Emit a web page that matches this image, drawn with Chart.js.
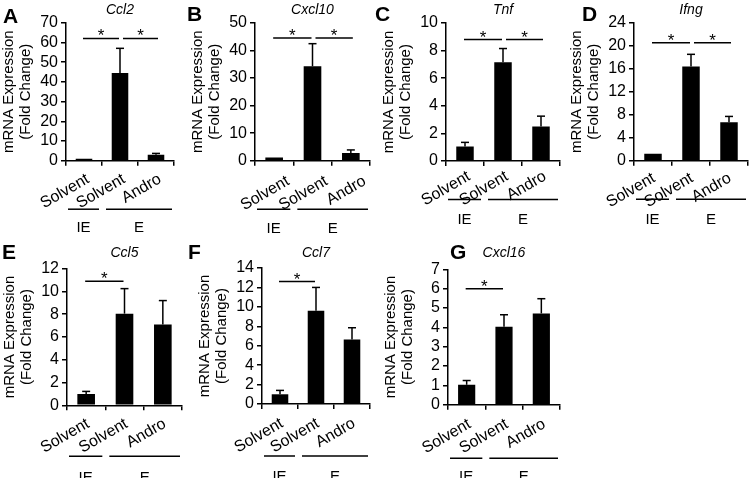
<!DOCTYPE html>
<html>
<head>
<meta charset="utf-8">
<script src="https://cdn.jsdelivr.net/npm/chart.js@4.4.1/dist/chart.umd.min.js"></script>
<style>
  body { margin: 0; background: #fff; width: 749px; height: 478px; position: relative; overflow: hidden; }
  .panel { position: absolute; }
  .lettre { position: absolute; font: bold 21px 'Liberation Sans', Arial, sans-serif; line-height: 1; color: #000; }
</style>
</head>
<body>
<script>
// ── Données ─────────────────────────────────────────────────
const categories   = ['Solvent', 'Solvent', 'Andro'];
const groupLabels  = ['IE', 'E'];
const groupFrom    = [0, 1];
const groupTo      = [0, 2];
const genes        = ['Ccl2', 'Cxcl10', 'Tnf', 'Ifng', 'Ccl5', 'Ccl7', 'Cxcl16'];
const panelLetters = ['A', 'B', 'C', 'D', 'E', 'F', 'G'];

const ccl2Mean   = [1.0, 44.5, 3.0];   const ccl2Sem   = [0, 12.5, 0.7];
const cxcl10Mean = [1.2, 34.2, 2.8];   const cxcl10Sem = [0, 8.2, 1.1];
const tnfMean    = [1.05, 7.15, 2.5];  const tnfSem    = [0.3, 1.0, 0.75];
const ifngMean   = [1.2, 16.4, 6.7];   const ifngSem   = [0, 2.1, 1.0];
const ccl5Mean   = [1.0, 8.05, 7.1];   const ccl5Sem   = [0.22, 2.2, 2.1];
const ccl7Mean   = [1.0, 9.6, 6.65];   const ccl7Sem   = [0.4, 2.4, 1.2];
const cxcl16Mean = [1.03, 4.03, 4.72]; const cxcl16Sem = [0.22, 0.62, 0.76];

const yMax  = [70, 50, 10, 24, 12, 14, 7];
const yStep = [10, 10, 2, 4, 2, 2, 1];

// comparaisons significatives (*) : paires de barres et hauteur du trait
const sigPairs  = [[[0, 1], [1, 2]], [[0, 1], [1, 2]], [[0, 1], [1, 2]], [[0, 1], [1, 2]], [[0, 1]], [[0, 1]], [[0, 1]]];
const sigLevels = [[62, 62], [44.5, 44.5], [8.8, 8.8], [20.5, 20.5], [10.9], [12.6], [6.0]];

const means = [ccl2Mean, cxcl10Mean, tnfMean, ifngMean, ccl5Mean, ccl7Mean, cxcl16Mean];
const sems  = [ccl2Sem, cxcl10Sem, tnfSem, ifngSem, ccl5Sem, ccl7Sem, cxcl16Sem];

// ── Mise en page (pixels) ───────────────────────────────────
const boxLeft    = [0, 189, 380, 568, 1, 196, 382];
const boxTop     = [0, 0, 0, 0, 240, 240, 240];
const boxHeight  = [240, 240, 240, 240, 238, 238, 238];
const plotWidth  = [108, 115, 114, 114, 115, 108, 112];
const plotTop    = [22.7, 22.7, 23, 22.7, 28.7, 28, 29.3];
const plotBottom = [160.7, 160.7, 161, 160.7, 165.3, 164, 164.7];
const titleY     = [10, 10, 10, 10, 13, 13, 13];
const tickPad    = [4, 6, 1, 3, 4, 5, 5];
const tickShift  = [4, 14, 4, 1, 2, 2, 3];
const groupLine  = [48.5, 48.5, 38.5, 38.5, 51, 52, 53.5];
const groupText  = [61, 62, 52, 52.5, 66.4, 66, 65.3];
const letterPos  = [[3, 7], [187, 5], [375, 5], [582, 5], [2, 243], [188, 243], [450, 243]];

const FONT = "'Liberation Sans', Arial, sans-serif";
Chart.defaults.font.family = FONT;
Chart.defaults.color = '#000';

// ── Plugin : barres d'erreur, astérisques, groupes IE / E ───
const extras = {
  id: 'extras',
  afterDraw(chart, args, opts) {
    const { ctx, chartArea } = chart;
    const x = chart.scales.x, y = chart.scales.y;
    const meta = chart.getDatasetMeta(0);
    const vals = chart.data.datasets[0].data;
    ctx.save();
    ctx.strokeStyle = '#000';
    ctx.fillStyle = '#000';
    ctx.lineWidth = 1.5;
    const seg = (x1, y1, x2, y2) => { ctx.beginPath(); ctx.moveTo(x1, y1); ctx.lineTo(x2, y2); ctx.stroke(); };

    // barres d'erreur (vers le haut seulement)
    opts.sem.forEach((s, i) => {
      if (!s) return;
      const bx = meta.data[i].x;
      const yt = y.getPixelForValue(vals[i] + s);
      seg(bx, y.getPixelForValue(vals[i]), bx, yt);
      seg(bx - 4, yt, bx + 4, yt);
    });

    // traits de significativité
    ctx.font = '17px ' + FONT;
    ctx.textAlign = 'center';
    ctx.textBaseline = 'alphabetic';
    opts.pairs.forEach((p, k) => {
      const yy = y.getPixelForValue(opts.levels[k]);
      const x1 = x.getPixelForValue(p[0]) + (k > 0 ? 3 : -1);
      const x2 = x.getPixelForValue(p[1]) + (k > 0 ? 2 : -1);
      seg(x1, yy, x2, yy);
      ctx.fillText('*', (x1 + x2) / 2, yy + 3);
    });

    // groupes sous l'axe
    const step = x.getPixelForValue(1) - x.getPixelForValue(0);
    ctx.font = '15px ' + FONT;
    groupLabels.forEach((lab, g) => {
      const left  = x.getPixelForValue(groupFrom[g]) - step / 2 + (g === 0 ? 2 : 4);
      const right = x.getPixelForValue(groupTo[g]) + step / 2 - (g === 0 ? 3 : 2);
      const ly = chartArea.bottom + opts.lineOff;
      seg(left, ly, right, ly);
      ctx.fillText(lab, (left + right) / 2, chartArea.bottom + opts.textOff + 10.5);
    });
    ctx.restore();
  }
};

// ── Construction des 7 panneaux ─────────────────────────────
genes.forEach((gene, i) => {
  const width = 66 + plotWidth[i] + 2;
  const canvas = document.createElement('canvas');
  canvas.className = 'panel';
  canvas.style.left = boxLeft[i] + 'px';
  canvas.style.top  = boxTop[i] + 'px';
  canvas.width  = width;
  canvas.height = boxHeight[i];
  document.body.appendChild(canvas);

  const lettre = document.createElement('div');
  lettre.className = 'lettre';
  lettre.textContent = panelLetters[i];
  lettre.style.left = letterPos[i][0] + 'px';
  lettre.style.top  = (letterPos[i][1] - 2.5) + 'px';
  document.body.appendChild(lettre);

  new Chart(canvas, {
    type: 'bar',
    data: {
      labels: categories,
      datasets: [{
        data: means[i],
        backgroundColor: '#000',
        borderWidth: 0,
        barPercentage: 0.46,
        categoryPercentage: 1
      }]
    },
    options: {
      responsive: false,
      animation: false,
      layout: { padding: { left: 0, right: 2, top: 0, bottom: 0 } },
      plugins: {
        legend : { display: false },
        tooltip: { enabled: false },
        title: {
          display: true,
          text: gene,
          fullSize: false,
          color: '#000',
          font: { size: 14, style: 'italic', weight: 'normal', lineHeight: 1.2 },
          padding: { top: titleY[i] - 8.4, bottom: plotTop[i] - titleY[i] - 8.4 }
        },
        extras: {
          sem: sems[i],
          pairs: sigPairs[i],
          levels: sigLevels[i],
          lineOff: groupLine[i],
          textOff: groupText[i]
        }
      },
      scales: {
        x: {
          grid  : { drawOnChartArea: false, tickLength: 5, color: '#000', lineWidth: 1.5, offset: true },
          border: { color: '#000', width: 1.5 },
          ticks : { minRotation: 30, maxRotation: 30, autoSkip: false, padding: tickPad[i],
                    labelOffset: tickShift[i], color: '#000', font: { size: 16 } },
          afterFit: s => { s.height = boxHeight[i] - plotBottom[i]; }
        },
        y: {
          min: 0,
          max: yMax[i],
          grid  : { drawOnChartArea: false, tickLength: 5, color: '#000', lineWidth: 1.5 },
          border: { color: '#000', width: 1.5 },
          ticks : { stepSize: yStep[i], autoSkip: false, padding: 3, color: '#000', font: { size: 16 } },
          title : { display: true, text: ['mRNA Expression', '(Fold Change)'], color: '#000',
                    font: { size: 15, lineHeight: 1.15 }, padding: { top: 0, bottom: 0 } },
          afterFit: s => { s.width = 66; }
        }
      }
    },
    plugins: [extras]
  });
});
</script>
</body>
</html>
